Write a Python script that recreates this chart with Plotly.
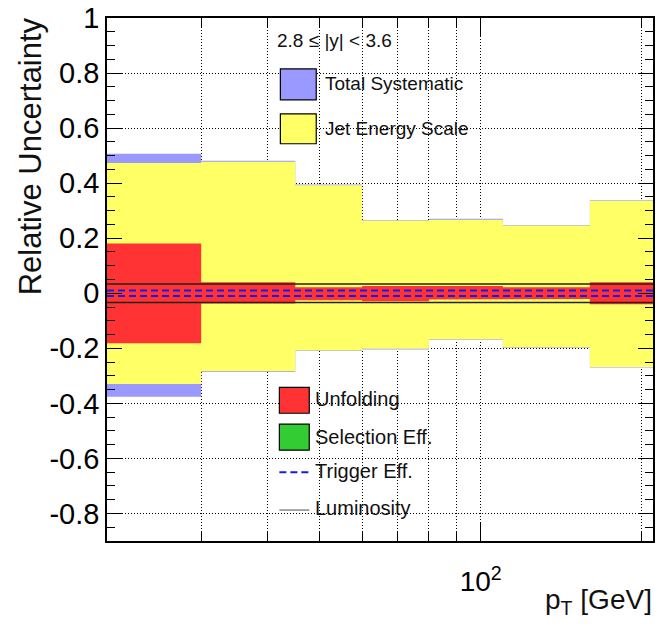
import plotly.graph_objects as go

# ---------------- data ----------------
bin_edges = [20, 30, 45, 60, 80, 110, 160, 210]

total_up = [0.507, 0.481, 0.395, 0.266, 0.271, 0.248, 0.338]
total_dn = [-0.376, -0.286, -0.210, -0.204, -0.170, -0.199, -0.270]
jes_up = [0.473, 0.478, 0.392, 0.264, 0.267, 0.246, 0.336]
jes_dn = [-0.330, -0.283, -0.208, -0.202, -0.168, -0.197, -0.268]
sel_up = [0.015, 0.015, 0.015, 0.015, 0.015, 0.015, 0.015]
sel_dn = [-0.015, -0.015, -0.015, -0.015, -0.015, -0.015, -0.015]
unf_up = [0.181, 0.040, 0.022, 0.026, 0.026, 0.022, 0.040]
unf_dn = [-0.182, -0.037, -0.025, -0.029, -0.023, -0.021, -0.040]
trig_up = [0.010, 0.010, 0.010, 0.010, 0.010, 0.010, 0.010]
trig_dn = [-0.010, -0.010, -0.010, -0.010, -0.010, -0.010, -0.010]
lumi_up = [0.034, 0.034, 0.034, 0.034, 0.034, 0.034, 0.034]
lumi_dn = [-0.034, -0.034, -0.034, -0.034, -0.034, -0.034, -0.034]

y_tick_vals = [-0.8, -0.6, -0.4, -0.2, 0, 0.2, 0.4, 0.6, 0.8, 1]
y_tick_text = ["-0.8", "-0.6", "-0.4", "-0.2", "0", "0.2", "0.4", "0.6", "0.8", "1"]
x_major_vals = [100]
x_major_text = ["10<sup>2</sup>"]
x_minor_vals = [30, 40, 50, 60, 70, 80, 90, 200]

# ---------------- helpers ----------------
FONT = "Liberation Sans, Arial, Helvetica, sans-serif"


def step_xy(edges, vals):
    xs, ys = [], []
    for i, v in enumerate(vals):
        xs += [edges[i], edges[i + 1]]
        ys += [v, v]
    return xs, ys


def band(edges, up, dn, color):
    xu, yu = step_xy(edges, up)
    xd, yd = step_xy(edges, dn)
    return go.Scatter(x=xu + xd[::-1], y=yu + yd[::-1], mode="lines",
                      fill="toself", fillcolor=color,
                      line=dict(width=0, color=color), hoverinfo="skip",
                      showlegend=False)


def step_line(edges, vals, color, width, dash="solid"):
    xs, ys = step_xy(edges, vals)
    return go.Scatter(x=xs, y=ys, mode="lines",
                      line=dict(color=color, width=width, dash=dash),
                      hoverinfo="skip", showlegend=False)


C_TOT = "#9999FF"
C_JES = "#FFFF66"
C_UNF = "#FF3333"
C_SEL = "#33CC33"
C_TRIG = "#1A1AE6"
C_LUMI = "#222222"
GRID_DASH = "1px,2px"

fig = go.Figure()
fig.add_trace(band(bin_edges, total_up, total_dn, C_TOT))
fig.add_trace(band(bin_edges, jes_up, jes_dn, C_JES))
fig.add_trace(band(bin_edges, sel_up, sel_dn, C_SEL))
fig.add_trace(band(bin_edges, unf_up, unf_dn, C_UNF))
fig.add_trace(step_line(bin_edges, trig_up, C_TRIG, 2, "7px,4px"))
fig.add_trace(step_line(bin_edges, trig_dn, C_TRIG, 2, "7px,4px"))
fig.add_trace(step_line(bin_edges, lumi_up, C_LUMI, 1.5))
fig.add_trace(step_line(bin_edges, lumi_dn, C_LUMI, 1.5))

# pixel -> paper conversion for the plot frame (107..655 x 17..541)
L, R, T, B = 107, 655, 17, 541


def fx(px):
    return (px - L) / (R - L)


def fy(py):
    return (B - py) / (B - T)


shapes = []
annotations = []


def legend_box(x0, x1, y0, y1, color):
    shapes.append(dict(type="rect", xref="paper", yref="paper",
                       x0=fx(x0), x1=fx(x1), y0=fy(y1), y1=fy(y0),
                       fillcolor=color, line=dict(color="black", width=1.2)))


def legend_line(x0, x1, y, color, width, dash="solid"):
    shapes.append(dict(type="line", xref="paper", yref="paper",
                       x0=fx(x0), x1=fx(x1), y0=fy(y), y1=fy(y),
                       line=dict(color=color, width=width, dash=dash)))


def text(px, py, s, size, xanchor="left", angle=0, yanchor="middle"):
    annotations.append(dict(x=fx(px), y=fy(py), xref="paper", yref="paper",
                            text=s, showarrow=False, xanchor=xanchor,
                            yanchor=yanchor, textangle=angle,
                            font=dict(family=FONT, size=size, color="#111111")))


text(276, 40, "2.8 ≤ |y| < 3.6", 19)
legend_box(281, 317, 68, 99, C_TOT)
text(324, 83, "Total Systematic", 19)
legend_box(281, 317, 113, 143, C_JES)
text(324, 128, "Jet Energy Scale", 19)

legend_box(280, 310, 387, 413, C_UNF)
text(314, 399, "Unfolding", 20)
legend_box(280, 310, 424, 450, C_SEL)
text(314, 437, "Selection Eff.", 20)
legend_line(280, 310, 472, C_TRIG, 2, "7px,4px")
text(314, 471, "Trigger Eff.", 20)
legend_line(280, 310, 510, "#888888", 1.5)
text(314, 508, "Luminosity", 20)

# axis titles
text(30, 14, "Relative Uncertainty", 31, xanchor="center", angle=-90, yanchor="top")
text(656, 602, "p<sub>T</sub> [GeV]", 28, xanchor="right")

fig.update_layout(
    width=657, height=627,
    margin=dict(l=L, r=657 - R, t=T, b=627 - B),
    paper_bgcolor="white", plot_bgcolor="white",
    showlegend=False, hovermode=False,
    shapes=shapes, annotations=annotations,
    font=dict(family=FONT, color="black"),
)

fig.update_xaxes(
    type="log", range=[1.30103, 2.32222],
    tickvals=x_major_vals, ticktext=x_major_text,
    tickfont=dict(family=FONT, size=28, color="black"),
    ticks="inside", ticklen=18, tickwidth=1.2, tickcolor="black",
    ticklabelstandoff=15,
    showgrid=True, gridcolor="black", gridwidth=1, griddash=GRID_DASH,
    minor=dict(tickvals=x_minor_vals, ticks="inside", ticklen=10,
               tickwidth=1.2, tickcolor="black", showgrid=True,
               gridcolor="black", gridwidth=1, griddash=GRID_DASH),
    showline=True, linecolor="black", linewidth=1.5, mirror="allticks",
    zeroline=False, layer="below traces",
)

fig.update_yaxes(
    range=[-0.9, 1.0],
    tickvals=y_tick_vals, ticktext=y_tick_text,
    tickfont=dict(family=FONT, size=29, color="black"),
    ticks="inside", ticklen=15, tickwidth=1.2, tickcolor="black",
    showgrid=True, gridcolor="black", gridwidth=1, griddash=GRID_DASH,
    minor=dict(dtick=0.05, tick0=0, ticks="inside", ticklen=8,
               tickwidth=1.2, tickcolor="black", showgrid=False),
    showline=True, linecolor="black", linewidth=1.5, mirror="allticks",
    zeroline=False,
)

fig.write_html("out.html", config={"displayModeBar": False},
               post_script="document.body.style.margin='0';")
